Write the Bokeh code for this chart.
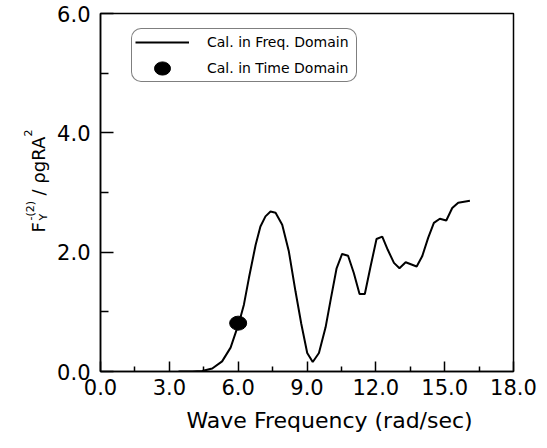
import math
from bokeh.plotting import figure
from bokeh.layouts import row
from bokeh.models import (Range1d, FixedTicker, Legend, LegendItem, Label,
                          NumeralTickFormatter, Title)
from bokeh.embed import file_html
from bokeh.resources import INLINE

# ---- data ----
freq = [3.4, 4.0, 4.43, 4.87, 5.30, 5.67, 6.03, 6.25, 6.47, 6.76, 6.97, 7.19,
        7.41, 7.63, 7.92, 8.21, 8.50, 8.75, 9.01, 9.25, 9.52, 9.81, 10.03,
        10.29, 10.53, 10.79, 11.04, 11.29, 11.52, 11.77, 12.03, 12.28, 12.52,
        12.79, 13.03, 13.30, 13.78, 14.02, 14.28, 14.53, 14.79, 15.07, 15.33,
        15.59, 16.10]
force = [0.0, 0.0, 0.01, 0.05, 0.17, 0.40, 0.81, 1.12, 1.57, 2.12, 2.43, 2.60,
         2.68, 2.66, 2.46, 2.01, 1.34, 0.80, 0.31, 0.16, 0.31, 0.74, 1.20,
         1.73, 1.97, 1.94, 1.65, 1.30, 1.30, 1.76, 2.22, 2.26, 2.04,
         1.82, 1.73, 1.83, 1.76, 1.93, 2.24, 2.49, 2.56, 2.53, 2.74,
         2.83, 2.86]
time_freq = [6.0]
time_force = [0.81]

x_ticks = [0.0, 3.0, 6.0, 9.0, 12.0, 15.0, 18.0]
x_minor = [1.5, 4.5, 7.5, 10.5, 13.5, 16.5]
y_ticks = [0.0, 2.0, 4.0, 6.0]
y_minor = [1.0, 3.0, 5.0]

FONT = "DejaVu Sans"
H = 440
LW = 50            # width of the strip holding the y-axis title
FRAME_BOTTOM = 372  # frame bottom (the strip's frame is aligned with the plot's)

# ---- y-axis title strip ----
yfig = figure(width=LW, height=H, output_backend="svg", toolbar_location=None,
              x_axis_location=None, y_axis_location=None,
              min_border=0, x_range=Range1d(0, 1), y_range=Range1d(0, 1))
yfig.grid.visible = False
yfig.outline_line_color = None
yfig.border_fill_color = "white"

ang = math.pi / 2
# (text, baseline x, start y from top, size)
pieces = [
    ("F", 38, 233, "18px"),
    ("Y", 43, 221, "11px"),
    ("-(2)", 30, 221, "11px"),
    ("/ ρgRA", 38, 196, "18px"),
    ("2", 27, 137, "11px"),
]
for txt, xs, ys, fs in pieces:
    yfig.add_layout(Label(x=xs, y=FRAME_BOTTOM - ys, x_units="screen",
                          y_units="screen", text=txt, angle=ang,
                          text_align="left", text_baseline="alphabetic",
                          text_font=FONT, text_font_size=fs,
                          text_color="black"))

# ---- main plot ----
p = figure(width=539 - LW, height=H, output_backend="svg", toolbar_location=None,
           x_range=Range1d(0, 18), y_range=Range1d(0, 6),
           min_border_left=100 - LW, min_border_right=26, min_border_top=13,
           min_border_bottom=68)
p.grid.visible = False
p.outline_line_color = "black"
p.outline_line_width = 1.5
p.background_fill_color = "white"
p.border_fill_color = "white"

line_r = p.line(freq, force, line_color="black", line_width=2)
dot_r = p.ellipse(x=time_freq, y=time_force, width=17, height=14,
                  width_units="screen", height_units="screen",
                  fill_color="black", line_color="black")

for ax, ticks, minor, tin, mtin in ((p.xaxis[0], x_ticks, x_minor, 10, 5),
                                    (p.yaxis[0], y_ticks, y_minor, 13, 8)):
    ax.ticker = FixedTicker(ticks=ticks, minor_ticks=minor)
    ax.formatter = NumeralTickFormatter(format="0.0")
    ax.major_tick_in = tin
    ax.major_tick_out = 0
    ax.minor_tick_in = mtin
    ax.minor_tick_out = 0
    ax.major_tick_line_width = 1.5
    ax.minor_tick_line_width = 1.5
    ax.axis_line_width = 1.5
    ax.major_label_text_font = FONT
    ax.major_label_text_font_size = "21px"
    ax.major_label_text_color = "black"
p.xaxis[0].major_label_standoff = 7
p.yaxis[0].major_label_standoff = 10

p.add_layout(Title(text="Wave Frequency (rad/sec)", align="left", offset=86,
                   text_font=FONT, text_font_size="22px",
                   text_font_style="normal", text_color="black",
                   standoff=16), "below")

legend = Legend(items=[LegendItem(label="Cal. in Freq. Domain", renderers=[line_r]),
                       LegendItem(label="Cal. in Time Domain", renderers=[dot_r])],
                location=(31, 289), orientation="vertical",
                padding=3, spacing=6, margin=0,
                glyph_width=54, glyph_height=20, label_height=20,
                label_width=146, label_standoff=18,
                label_text_font=FONT, label_text_font_size="14px",
                label_text_color="black",
                border_line_color="black", border_line_width=1.2,
                background_fill_color="white", background_fill_alpha=1.0)
if "border_radius" in Legend.properties():
    legend.border_radius = 10
p.add_layout(legend)

layout = row(yfig, p)
open("out.html", "w").write(file_html(layout, INLINE))
